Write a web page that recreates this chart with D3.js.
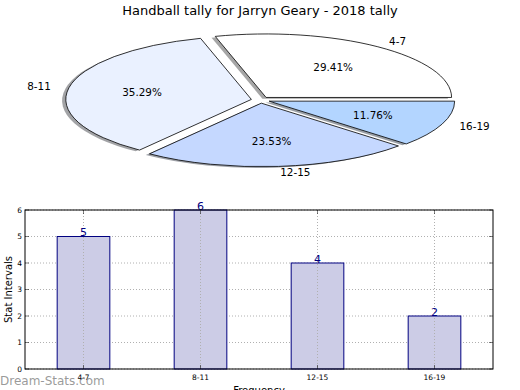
<!DOCTYPE html>
<html><head><meta charset="utf-8">
<script src="https://cdn.jsdelivr.net/npm/d3@7"></script>
<style>body{margin:0;background:#fff}svg{display:block;font-family:"DejaVu Sans",sans-serif}</style>
</head><body><svg id="c" width="520" height="390"></svg>
<script>
const categories = ["4-7", "8-11", "12-15", "16-19"];
const values = [5, 6, 4, 2];
const pieColors = ["#ffffff", "#eaf1ff", "#c5d8ff", "#b3d5ff"];
const yTicks = [0, 1, 2, 3, 4, 5, 6];
const title = "Handball tally for Jarryn Geary - 2018 tally";

const svg = d3.select("#c");
const W = 520, H = 390;
svg.append("rect").attr("width", W).attr("height", H).attr("fill", "#fff");

// ---------- PIE ----------
const cx = 260.5, cy = 100, rx = 185.5, ry = 63.5, explode = 0.05;
const total = d3.sum(values);
let acc = 0;
const slices = values.map((v, i) => {
  const t0 = acc / total * 2 * Math.PI; acc += v;
  const t1 = acc / total * 2 * Math.PI;
  return { i, v, t0, t1, tm: (t0 + t1) / 2 };
});
const arcGen = d3.arc().innerRadius(0).outerRadius(1);
const pieG = svg.append("g").attr("transform", `translate(${cx},${cy})`);
function slicePath(s) {
  return arcGen({ startAngle: Math.PI / 2 - s.t1, endAngle: Math.PI / 2 - s.t0 });
}
slices.forEach(s => {
  const ox = explode * Math.cos(s.tm) - 0.02, oy = -explode * Math.sin(s.tm) + 0.02;
  const c = d3.rgb(pieColors[s.i]);
  pieG.append("g").attr("transform", `scale(${rx},${ry}) translate(${ox},${oy})`)
    .append("path").attr("d", slicePath(s))
    .attr("fill", d3.rgb(c.r * 0.3, c.g * 0.3, c.b * 0.3)).attr("fill-opacity", 0.5)
    .attr("stroke", "none");
});
slices.forEach(s => {
  const ox = explode * Math.cos(s.tm), oy = -explode * Math.sin(s.tm);
  pieG.append("g").attr("transform", `scale(${rx},${ry}) translate(${ox},${oy})`)
    .append("path").attr("d", slicePath(s))
    .attr("fill", pieColors[s.i]).attr("stroke", "#000").attr("stroke-width", 0.8)
    .attr("vector-effect", "non-scaling-stroke").attr("stroke-linejoin", "miter");
});
slices.forEach(s => {
  const ex = explode * Math.cos(s.tm) * rx, ey = -explode * Math.sin(s.tm) * ry;
  const lx = ex + 1.1 * rx * Math.cos(s.tm), ly = ey - 1.1 * ry * Math.sin(s.tm);
  pieG.append("text").attr("x", lx).attr("y", ly).attr("dy", "0.35em")
    .attr("text-anchor", Math.cos(s.tm) > 0 ? "start" : "end")
    .attr("font-size", 10.4).attr("fill", "#000").text(categories[s.i]);
  const px = ex + 0.6 * rx * Math.cos(s.tm), py = ey - 0.6 * ry * Math.sin(s.tm);
  pieG.append("text").attr("x", px).attr("y", py).attr("dy", "0.35em")
    .attr("text-anchor", "middle").attr("font-size", 10.4).attr("fill", "#000")
    .text((s.v / total * 100).toFixed(2) + "%");
});
svg.append("text").attr("x", 260).attr("y", 15).attr("text-anchor", "middle")
  .attr("font-size", 13).text(title);

// ---------- BAR ----------
const L = 25, R = 493, T = 210, B = 369;
const x = d3.scaleLinear().domain([-0.5, 3.5]).range([L, R]);
const y = d3.scaleLinear().domain([0, 6]).range([B, T]);
const g = svg.append("g");
yTicks.forEach(t => {
  g.append("line").attr("x1", L).attr("x2", R).attr("y1", y(t)).attr("y2", y(t))
    .attr("stroke", "#b0b0b0").attr("stroke-width", 1).attr("stroke-dasharray", "1,2");
});
const bw = 0.45;
categories.forEach((c, i) => {
  g.append("rect").attr("x", x(i - bw / 2)).attr("width", x(bw) - x(0))
    .attr("y", y(values[i])).attr("height", y(0) - y(values[i]))
    .attr("fill", "#cccce6").attr("stroke", "#000080").attr("stroke-width", 1);
});
categories.forEach((c, i) => {
  g.append("line").attr("x1", x(i)).attr("x2", x(i)).attr("y1", T).attr("y2", B)
    .attr("stroke", "#b0b0b0").attr("stroke-width", 1).attr("stroke-dasharray", "1,2");
});
categories.forEach((c, i) => {
  g.append("text").attr("x", x(i)).attr("y", y(values[i]) - 0.5).attr("text-anchor", "middle")
    .attr("font-size", 11).attr("fill", "#000080").text(values[i]);
});
g.append("rect").attr("x", L).attr("y", T).attr("width", R - L).attr("height", B - T)
  .attr("fill", "none").attr("stroke", "#000").attr("stroke-width", 1);
yTicks.forEach(t => {
  g.append("line").attr("x1", L).attr("x2", L + 4).attr("y1", y(t)).attr("y2", y(t)).attr("stroke", "#000").attr("stroke-width", 0.5);
  g.append("line").attr("x1", R - 4).attr("x2", R).attr("y1", y(t)).attr("y2", y(t)).attr("stroke", "#000").attr("stroke-width", 0.5);
  g.append("text").attr("x", L - 3).attr("y", y(t)).attr("dy", "0.35em").attr("text-anchor", "end")
    .attr("font-size", 7.5).text(t);
});
categories.forEach((c, i) => {
  g.append("line").attr("x1", x(i)).attr("x2", x(i)).attr("y1", B).attr("y2", B - 4).attr("stroke", "#000").attr("stroke-width", 0.5);
  g.append("line").attr("x1", x(i)).attr("x2", x(i)).attr("y1", T).attr("y2", T + 4).attr("stroke", "#000").attr("stroke-width", 0.5);
  g.append("text").attr("x", x(i)).attr("y", B + 11).attr("text-anchor", "middle")
    .attr("font-size", 7.5).text(c);
});
svg.append("text").attr("transform", `translate(12,${(T + B) / 2}) rotate(-90)`)
  .attr("text-anchor", "middle").attr("font-size", 10).text("Stat Intervals");
svg.append("text").attr("x", (L + R) / 2).attr("y", 394).attr("text-anchor", "middle")
  .attr("font-size", 10).text("Frequency");
svg.append("text").attr("x", 0).attr("y", 385).attr("font-size", 12)
  .attr("fill", "#888").attr("fill-opacity", 0.85).text("Dream-Stats.com");
</script></body></html>
